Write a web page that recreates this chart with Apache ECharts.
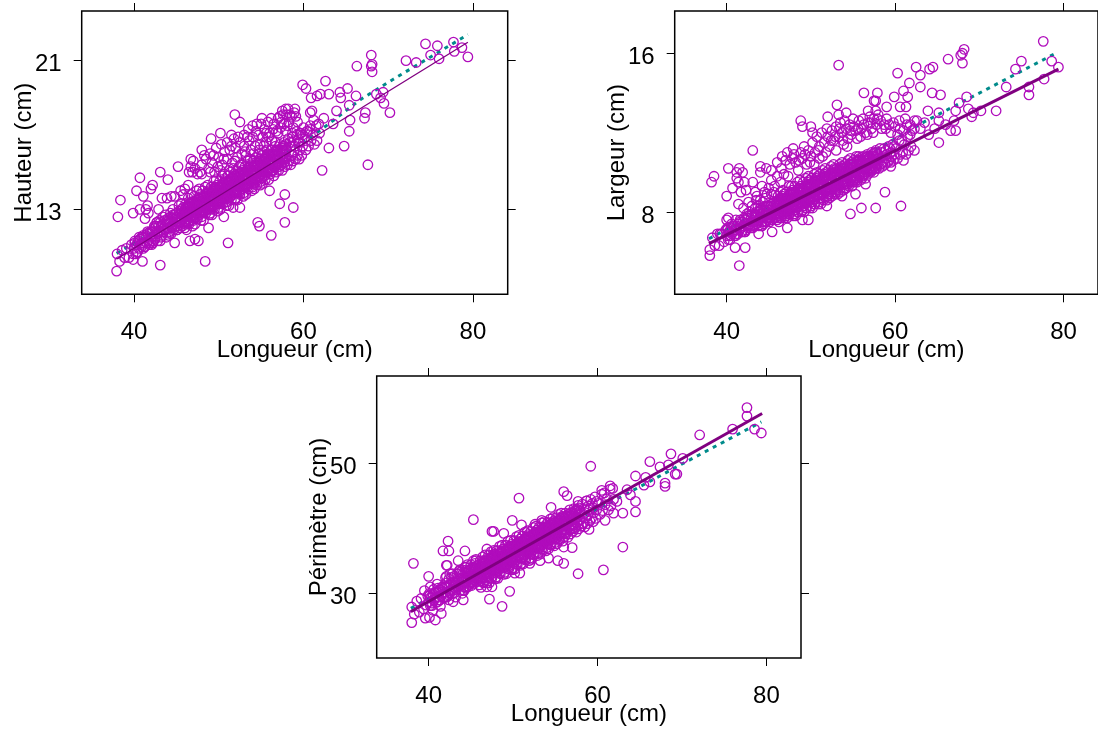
<!DOCTYPE html>
<html><head><meta charset="utf-8"><style>html,body{margin:0;padding:0;background:#fff;overflow:hidden}#c{width:1098px;height:731px}</style>
<script src="https://cdn.jsdelivr.net/npm/echarts@6/dist/echarts.min.js"></script></head><body><div id="c"></div>
<script>
const coreLongueur=[38.0,38.3,38.6,38.9,39.1,39.4,39.7,39.9,40.1,40.4,40.6,40.9,41.1,41.3,41.6,41.8,
42.1,42.2,42.4,42.5,42.7,42.8,43.0,43.2,43.4,43.5,43.7,43.9,44.0,44.2,44.3,44.5,44.6,44.8,45,45.1,45.3,45.4,45.6,45.7,45.9,
46,46,46.1,46.1,46.2,46.2,46.3,46.3,46.4,46.4,46.5,46.5,46.6,46.6,46.7,46.7,46.8,46.8,46.9,46.9,
47,47,47.1,47.1,47.2,47.2,47.3,47.3,47.4,47.4,47.5,47.5,47.6,47.6,47.7,47.7,47.8,47.8,47.9,47.9,
48,48,48.1,48.1,48.2,48.2,48.3,48.3,48.4,48.4,48.5,48.5,48.6,48.6,48.7,48.7,48.8,48.8,48.9,48.9,
49,49,49.1,49.1,49.2,49.2,49.3,49.3,49.4,49.4,49.5,49.5,49.6,49.6,49.7,49.7,49.8,49.8,49.9,49.9,
50,50,50.1,50.1,50.2,50.2,50.3,50.3,50.4,50.4,50.5,50.5,50.6,50.6,50.7,50.7,50.8,50.8,50.9,50.9,
51,51,51.1,51.1,51.2,51.2,51.3,51.3,51.4,51.4,51.5,51.5,51.6,51.6,51.7,51.7,51.8,51.8,51.9,51.9,
52,52,52.1,52.1,52.2,52.2,52.3,52.3,52.4,52.4,52.5,52.5,52.6,52.6,52.7,52.7,52.8,52.8,52.9,52.9,
53,53,53.1,53.1,53.2,53.2,53.3,53.3,53.4,53.4,53.5,53.5,53.6,53.6,53.7,53.7,53.8,53.8,53.9,53.9,
54,54,54.1,54.1,54.2,54.2,54.3,54.3,54.4,54.4,54.5,54.5,54.6,54.6,54.7,54.7,54.8,54.8,54.9,54.9,
55,55,55.1,55.1,55.2,55.2,55.3,55.3,55.4,55.4,55.5,55.5,55.6,55.6,55.7,55.7,55.8,55.8,55.9,55.9,
56,56.1,56.2,56.3,56.4,56.5,56.5,56.6,56.7,56.8,56.9,56.9,57,57.1,57.2,57.3,57.4,57.5,57.5,57.6,57.7,57.8,57.9,57.9,
58,58.1,58.2,58.3,58.4,58.5,58.5,58.6,58.7,58.8,58.9,58.9,59,59.1,59.2,59.3,59.4,59.5,59.5,59.6,59.7,59.8,59.9,59.9,
60.1,60.3,60.5,60.6,60.8,60.9,61.1,61.3,61.5,61.6,61.8,61.9,
40,40.1,40.2,40.3,40.4,40.5,40.6,40.7,40.8,40.9,41,41.1,41.2,41.3,41.4,41.5,41.6,41.7,41.8,41.9,
42,42.1,42.2,42.3,42.4,42.5,42.6,42.7,42.8,42.9,43,43.1,43.2,43.3,43.4,43.5,43.6,43.7,43.8,43.9,
44,44,44.1,44.2,44.2,44.3,44.4,44.4,44.5,44.6,44.6,44.7,44.8,44.8,44.9,44.9,
45,45,45.1,45.2,45.2,45.3,45.4,45.4,45.5,45.6,45.6,45.7,45.8,45.8,45.9,45.9,
46,46,46.1,46.2,46.2,46.3,46.4,46.4,46.5,46.6,46.6,46.7,46.8,46.8,46.9,46.9,
47,47,47.1,47.2,47.2,47.3,47.4,47.4,47.5,47.6,47.6,47.7,47.8,47.8,47.9,47.9,
48,48,48.1,48.2,48.2,48.3,48.4,48.4,48.5,48.6,48.6,48.7,48.8,48.8,48.9,48.9,
49,49,49.1,49.2,49.2,49.3,49.4,49.4,49.5,49.6,49.6,49.7,49.8,49.8,49.9,49.9,
50,50,50.1,50.2,50.2,50.3,50.4,50.4,50.5,50.6,50.6,50.7,50.8,50.8,50.9,50.9,
51,51,51.1,51.2,51.2,51.3,51.4,51.4,51.5,51.6,51.6,51.7,51.8,51.8,51.9,51.9,
52,52,52.1,52.2,52.2,52.3,52.4,52.4,52.5,52.6,52.6,52.7,52.8,52.8,52.9,52.9,
53,53,53.1,53.2,53.2,53.3,53.4,53.4,53.5,53.6,53.6,53.7,53.8,53.8,53.9,53.9,
54,54,54.1,54.2,54.2,54.3,54.4,54.4,54.5,54.6,54.6,54.7,54.8,54.8,54.9,54.9,
55,55,55.1,55.2,55.2,55.3,55.4,55.4,55.5,55.6,55.6,55.7,55.8,55.8,55.9,55.9,
56,56,56.1,56.2,56.2,56.3,56.4,56.4,56.5,56.6,56.6,56.7,56.8,56.8,56.9,56.9,
57,57,57.1,57.2,57.2,57.3,57.4,57.4,57.5,57.6,57.6,57.7,57.8,57.8,57.9,57.9];
const coreHauteur=[10.6,10.2,10.8,10.4,10.9,10.4,11.1,10.6,11.3,10.7,11.5,11.0,11.6,11.0,11.8,11.2,
11.8,11.2,12.1,11.4,12.3,11.7,12.4,11.5,12.6,11.8,12.7,12.0,12.5,11.7,12.8,12.0,13.0,12.2,12.6,11.9,13.2,12.3,13.3,12.4,12.8,
12.7,12.0,13.3,12.3,13.1,11.9,12.9,12.6,13.6,12.3,13.3,12.2,12.9,13.2,12.6,13.8,12.7,13.4,12.1,13.0,
12.9,12.4,13.7,12.5,13.3,12.2,13.2,12.8,14.0,12.6,13.5,12.5,13.1,13.6,12.9,14.1,12.9,13.8,12.4,13.3,
13.2,12.6,14.0,12.9,13.6,12.4,13.4,13.1,14.2,12.9,13.8,12.8,13.3,13.9,13.1,14.3,13.2,14.0,12.7,13.6,
13.5,12.8,14.2,13.1,13.9,12.7,13.7,13.3,14.5,13.1,14.1,13.0,13.6,14.2,13.4,14.6,13.5,14.3,12.9,13.9,
13.8,13.1,14.5,13.3,14.2,13.0,14.0,13.6,14.8,13.4,14.3,13.3,13.9,14.4,13.7,14.9,13.7,14.6,13.2,14.2,
14.0,13.4,14.8,13.6,14.4,13.2,14.3,13.9,15.0,13.7,14.6,13.5,14.2,14.7,13.9,15.2,14.0,14.9,13.5,14.4,
14.3,13.6,15.1,13.9,14.7,13.5,14.5,14.2,15.3,13.9,14.9,13.8,14.4,15.0,14.2,15.4,14.3,15.1,13.7,14.7,
14.6,13.9,15.3,14.2,15.0,13.8,14.8,14.4,15.6,14.2,15.2,14.1,14.7,15.3,14.5,15.7,14.6,15.4,14.0,15.0,
14.9,14.2,15.6,14.4,15.3,14.1,15.1,14.7,15.8,14.5,15.4,14.3,15.0,15.5,14.8,16.0,14.8,15.7,14.3,15.2,
15.1,14.5,15.9,14.7,15.5,14.4,15.3,15.0,16.1,14.8,15.7,14.6,15.2,15.8,15.0,16.2,15.1,16.0,14.6,15.5,
15.6,14.9,16.2,15.1,16.0,14.8,15.8,15.4,16.4,15.0,16.1,15.5,15.9,15.1,16.5,15.4,16.3,15.1,16.0,15.7,16.6,15.3,16.5,15.8,
16.2,15.4,16.8,15.6,16.6,15.4,16.4,15.9,16.9,15.6,16.7,16.1,16.4,15.7,17.0,15.9,16.8,15.7,16.6,16.2,17.1,15.9,17.0,16.4,
16.8,16.2,17.2,16.4,17.3,16.7,17.0,16.5,17.5,16.7,17.6,17.1,
10.9,11.2,10.6,11.1,10.7,11.3,10.9,11.4,11.1,11.5,11.2,10.9,11.5,11.0,11.6,11.2,11.7,11.3,11.1,11.8,
11.5,11.1,11.8,11.3,12.0,11.5,12.1,11.7,11.3,12.1,11.8,11.3,12.1,11.6,12.2,11.8,12.4,11.9,11.5,12.3,
12.0,12.4,11.6,12.2,11.8,12.6,12.1,11.7,12.5,12.2,12.7,11.9,12.4,12.7,12.1,12.5,
12.3,12.8,11.9,12.5,12.1,12.9,12.3,12.0,12.8,12.5,13.0,12.1,12.7,13.1,12.3,12.8,
12.6,13.0,12.2,12.8,12.4,13.2,12.7,12.3,13.1,12.8,13.3,12.4,12.9,13.4,12.7,13.1,
12.9,13.4,12.5,13.0,12.7,13.5,13.0,12.6,13.4,13.0,13.6,12.7,13.2,13.6,12.9,13.4,
13.2,13.7,12.8,13.3,13.0,13.7,13.2,12.9,13.7,13.3,13.9,13.0,13.5,13.9,13.2,13.7,
13.4,13.9,13.0,13.6,13.2,14.0,13.5,13.2,14.0,13.6,14.2,13.3,13.8,14.2,13.5,14.0,
13.7,14.2,13.3,13.9,13.5,14.3,13.8,13.5,14.2,13.9,14.4,13.6,14.1,14.5,13.8,14.3,
14.0,14.5,13.6,14.2,13.8,14.6,14.1,13.7,14.5,14.1,14.7,13.8,14.3,14.8,14.1,14.5,
14.3,14.8,13.9,14.4,14.1,14.9,14.3,14.0,14.8,14.4,15.0,14.1,14.6,15.0,14.3,14.8,
14.6,15.0,14.2,14.7,14.3,15.1,14.6,14.3,15.1,14.7,15.3,14.4,14.9,15.3,14.6,15.1,
14.9,15.3,14.4,15.0,14.6,15.4,14.9,14.6,15.3,15.0,15.5,14.7,15.2,15.6,14.9,15.4,
15.1,15.6,14.7,15.3,14.9,15.7,15.2,14.8,15.6,15.2,15.8,15.0,15.5,15.9,15.2,15.6,
15.4,15.9,15.0,15.6,15.2,16.0,15.4,15.1,15.9,15.5,16.1,15.3,15.7,16.2,15.4,15.9,
15.7,16.2,15.3,15.8,15.5,16.2,15.7,15.4,16.2,15.8,16.4,15.5,16.0,16.4,15.7,16.2];
const coreLargeur=[6.1,6.7,6.3,6.9,6.3,6.9,6.5,7.1,7.2,6.6,7.4,6.8,7.6,6.9,7.6,7.0,
7.7,7.0,7.9,7.2,8.0,7.3,7.9,7.5,8.2,7.4,8.3,7.6,8.2,7.3,8.5,7.5,8.7,7.7,8.1,7.6,8.9,7.8,9.0,7.9,8.4,
8.2,7.6,8.8,7.8,8.5,7.5,8.3,8.1,9.0,7.7,8.7,7.7,8.3,8.8,8.0,9.1,8.1,8.9,7.7,8.4,
8.4,7.8,9.0,8.0,8.7,7.7,8.5,8.2,9.3,7.9,8.9,7.9,8.5,9.0,8.2,9.3,8.3,9.1,7.8,8.6,
8.6,7.9,9.3,8.1,8.9,7.8,8.7,8.4,9.5,8.0,9.1,8.0,8.7,9.2,8.4,9.6,8.5,9.3,8.0,8.8,
8.8,8.1,9.5,8.3,9.1,8.0,8.9,8.6,9.7,8.2,9.3,8.2,8.9,9.5,8.6,9.8,8.7,9.6,8.2,9.0,
9.0,8.3,9.7,8.5,9.3,8.2,9.1,8.8,9.9,8.4,9.5,8.4,9.1,9.7,8.8,10.0,8.9,9.8,8.4,9.2,
9.2,8.5,9.9,8.7,9.5,8.4,9.3,9.0,10.1,8.7,9.7,8.6,9.3,9.9,9.0,10.2,9.1,10.0,8.6,9.4,
9.4,8.8,10.1,8.9,9.7,8.7,9.5,9.2,10.3,8.9,9.9,8.8,9.5,10.1,9.2,10.4,9.3,10.2,8.9,9.6,
9.6,9.0,10.2,9.1,9.9,8.9,9.7,9.4,10.4,9.1,10.1,9.0,9.7,10.3,9.4,10.5,9.5,10.3,9.1,9.8,
9.8,9.2,10.4,9.4,10.1,9.2,9.9,9.6,10.6,9.4,10.2,9.3,9.9,10.4,9.6,10.7,9.7,10.5,9.3,10.0,
10.0,9.5,10.6,9.6,10.3,9.5,10.1,9.8,10.8,9.6,10.4,9.5,10.1,10.6,9.8,10.8,9.9,10.7,9.6,10.2,
10.2,9.7,10.8,9.9,10.6,9.7,10.4,10.1,10.9,9.9,10.7,10.2,10.5,10.0,11.0,10.1,10.8,10.0,10.6,10.3,11.1,10.2,10.9,10.5,
10.7,10.2,11.2,10.4,11.0,10.3,10.8,10.5,11.2,10.4,11.1,10.7,10.9,10.5,11.3,10.6,11.2,10.5,11.0,10.8,11.4,10.6,11.3,10.9,
11.2,10.7,11.6,10.9,11.6,11.0,11.4,10.9,11.8,11.1,11.9,11.3,
6.8,7.1,6.6,7.0,6.8,7.2,6.9,7.3,7.0,7.3,7.1,6.8,7.3,6.9,7.4,7.1,7.5,7.2,7.0,7.5,
7.3,7.0,7.6,7.1,7.7,7.3,7.8,7.4,7.2,7.8,7.5,7.2,7.8,7.3,7.9,7.5,8.0,7.6,7.3,8.0,
7.7,8.1,7.3,7.9,7.5,8.2,7.7,7.4,8.1,7.8,8.3,7.5,8.0,8.3,7.7,8.1,
7.9,8.3,7.5,8.1,7.7,8.4,7.9,7.6,8.3,8.0,8.5,7.7,8.2,8.5,7.9,8.3,
8.1,8.5,7.7,8.3,7.9,8.6,8.1,7.8,8.5,8.2,8.7,7.9,8.4,8.7,8.1,8.5,
8.3,8.7,7.9,8.5,8.1,8.8,8.3,8.0,8.7,8.4,8.9,8.1,8.6,8.9,8.3,8.7,
8.5,9.0,8.1,8.7,8.3,9.1,8.6,8.2,9.0,8.6,9.2,8.3,8.8,9.2,8.5,9.0,
8.7,9.2,8.3,8.9,8.5,9.3,8.8,8.4,9.2,8.8,9.4,8.5,9.0,9.4,8.7,9.2,
9.0,9.4,8.5,9.1,8.7,9.5,9.0,8.6,9.4,9.0,9.6,8.8,9.3,9.6,8.9,9.4,
9.2,9.6,8.7,9.3,8.9,9.7,9.2,8.9,9.6,9.3,9.8,9.0,9.5,9.8,9.1,9.6,
9.4,9.8,9.0,9.5,9.1,9.9,9.4,9.1,9.8,9.5,10.0,9.2,9.7,10.0,9.3,9.8,
9.6,10.0,9.2,9.7,9.3,10.1,9.6,9.3,10.0,9.7,10.2,9.4,9.9,10.2,9.5,10.0,
9.8,10.2,9.4,9.9,9.5,10.3,9.8,9.5,10.2,9.9,10.4,9.6,10.1,10.4,9.8,10.2,
10.0,10.4,9.6,10.1,9.7,10.5,10.0,9.7,10.4,10.1,10.6,9.8,10.3,10.6,10.0,10.4,
10.2,10.6,9.8,10.4,10.0,10.7,10.2,9.9,10.6,10.3,10.8,10.0,10.5,10.8,10.2,10.6,
10.5,10.8,10.1,10.6,10.2,10.9,10.5,10.2,10.8,10.5,11.0,10.2,10.7,11.0,10.4,10.8];
const corePerimetre=[27.9,26.8,28.8,27.1,29.2,27.6,28.2,29.6,30.0,28.1,30.6,28.6,30.8,29.0,31.0,29.4,
31.6,29.5,32.2,30,32.4,30.4,32.6,30.8,33,31,33.2,31.2,33.6,30.4,34,31,34.4,31.4,32.6,31.6,35,32,35.2,32.2,33.4,
33.3,31.3,35.0,31.9,34.2,30.9,33.6,32.9,35.6,31.7,34.6,31.6,33.6,35.0,32.8,35.9,33.2,35.2,31.6,34.0,
34.0,31.9,35.9,32.6,34.9,31.6,34.4,33.5,36.4,32.4,35.4,32.3,34.3,35.8,33.5,36.6,34.0,36.0,32.2,34.8,
34.8,32.5,36.6,33.3,35.7,32.3,35.1,34.2,37.2,33.1,36.2,33.0,35.0,36.5,34.2,37.4,34.7,36.8,32.9,35.5,
35.5,33.2,37.4,34.0,36.4,33.0,35.9,34.9,38.0,33.8,36.9,33.7,35.8,37.2,34.9,38.1,35.4,37.5,33.6,36.3,
36.2,33.9,38.1,34.7,37.2,33.7,36.6,35.6,38.7,34.5,37.6,34.4,36.5,37.9,35.7,38.9,36.2,38.3,34.3,37.0,
37.0,34.6,38.8,35.4,37.9,34.5,37.3,36.4,39.4,35.3,38.3,35.1,37.2,38.7,36.4,39.6,36.9,39.0,35.0,37.7,
37.7,35.4,39.5,36.1,38.6,35.2,38.0,37.1,40.1,36.0,39.1,35.9,37.9,39.4,37.1,40.3,37.6,39.7,35.8,38.5,
38.4,36.2,40.2,36.9,39.3,36.0,38.8,37.9,40.8,36.8,39.7,36.6,38.7,40.1,37.9,41.0,38.4,40.4,36.5,39.2,
39.2,37.0,40.9,37.6,40.1,36.8,39.5,38.6,41.4,37.5,40.5,37.4,39.4,40.8,38.6,41.6,39.1,41.1,37.3,39.9,
39.9,37.8,41.6,38.4,40.8,37.6,40.2,39.3,42.1,38.3,41.2,38.1,40.1,41.5,39.3,42.3,39.8,41.8,38.0,40.6,
40.6,38.7,42.3,39.1,41.6,38.6,41.0,40.1,42.8,39.1,42.0,40.6,41.4,39.5,43.0,39.9,42.3,39.4,41.7,40.9,43.5,39.9,42.7,41.3,
42.1,40.3,43.7,40.7,43.0,40.2,42.4,41.6,44.2,40.7,43.4,42.0,42.8,41.1,44.4,41.5,43.8,41.0,43.1,42.4,44.8,41.5,44.1,42.8,
43.8,42.1,45.2,42.7,45.4,43.6,44.5,42.8,46.0,43.4,46.1,44.4,
28.7,29.6,28.1,29.3,28.5,29.9,29.0,30.1,29.3,30.3,29.5,28.7,30.3,29.0,30.5,29.6,30.8,30.0,29.3,31.0,
30.2,29.4,31.0,29.8,31.2,30.3,31.5,30.6,29.9,31.7,30.9,30.1,31.7,30.5,31.9,31.0,32.2,31.3,30.5,32.3,
31.7,32.9,30.5,32.3,31.0,33.2,31.9,30.8,33.1,32.2,33.4,31.0,32.7,33.6,31.7,33.0,
32.4,33.6,31.2,33.0,31.7,33.9,32.6,31.5,33.8,32.9,34.1,31.8,33.4,34.3,32.4,33.7,
33.1,34.4,31.9,33.7,32.4,34.6,33.4,32.2,34.5,33.6,34.9,32.5,34.1,35.0,33.2,34.5,
33.9,35.1,32.6,34.4,33.2,35.3,34.1,32.9,35.3,34.3,35.6,33.2,34.8,35.8,33.9,35.2,
34.6,35.8,33.4,35.2,33.9,36.1,34.8,33.7,36.0,35.1,36.3,33.9,35.6,36.5,34.6,35.9,
35.3,36.6,34.1,35.9,34.6,36.8,35.6,34.4,36.7,35.8,37.1,34.7,36.3,37.2,35.4,36.7,
36.0,37.3,34.8,36.6,35.3,37.5,36.3,35.1,37.4,36.5,37.8,35.4,37.0,37.9,36.1,37.4,
36.8,38.0,35.6,37.4,36.1,38.3,37.0,35.9,38.2,37.3,38.5,36.1,37.7,38.7,36.8,38.1,
37.5,38.7,36.3,38.1,36.8,39.0,37.7,36.6,38.9,38.0,39.3,36.9,38.5,39.4,37.6,38.9,
38.2,39.5,37.0,38.8,37.5,39.7,38.5,37.3,39.6,38.7,40.0,37.6,39.2,40.1,38.3,39.6,
39.0,40.2,37.8,39.6,38.3,40.5,39.2,38.1,40.4,39.5,40.7,38.3,39.9,40.9,39.0,40.3,
39.7,40.9,38.5,40.3,39.0,41.2,39.9,38.8,41.1,40.2,41.5,39.1,40.7,41.6,39.8,41.1,
40.4,41.7,39.2,41.0,39.7,41.9,40.7,39.5,41.8,40.9,42.2,39.8,41.4,42.3,40.5,41.8,
41.2,42.4,40.0,41.8,40.5,42.7,41.4,40.3,42.6,41.7,42.9,40.5,42.1,43.1,41.2,42.5];

const hauteurExtra=[[37.95,9.68],[38.4,13.5],[38.1,12.6],[39.9,12.8],[40.3,14],[40.7,14.7],[41.1,13.7],[42.2,14.3],[42,14.1],[43.1,15],[44,14.6],[43.1,10],[48.4,10.2],[51.1,11.2],[45.2,15.3],[46.7,15.7],[46.7,15.3],[46.9,15],[48,16.2],[49.1,16.8],[50.2,17.1],[51.9,18.1],[52.5,17.7],[51.5,17],[59.9,19.7],[60.3,19.5],[62.6,19.9],[60.9,19],[61.6,19.1],[62,19.2],[63,19.2],[64.3,19.3],[65.2,19.5],[64.4,19],[66.2,19.1],[66.3,20.7],[68,21.3],[68.1,20.8],[68,20.7],[68.1,20.4],[72.1,21],[73.3,20.9],[74.4,21.9],[75.8,21.8],[75,21.3],[76,21.1],[77.7,22],[77.8,21.5],[78.7,21.7],[79.4,21.2],[68.6,19.2],[69.1,19],[69.4,19.3],[69.5,18.7],[70.2,18.2],[67.3,18.2],[67.2,17.9],[65.5,17.8],[65.4,17.2],[64.8,16.4],[63,16.3],[62.2,15.1],[67.6,15.4],[60.8,18.2],[61,18.3],[62.4,17.9],[63.9,18.3],[65.4,18.6],[63.5,17.6],[58.8,13.1],[57.8,13.8],[57.2,13.3],[56,14],[57.8,12.3],[54.6,12.3],[54.8,12.1],[56.2,11.6],[44.8,11.2],[46.6,11.3],[47.2,11.4],[47.6,11.3],[41,10.2],[39.9,10.3],
[46.5,15],[47,15.6],[47.5,14.9],[48,15.4],[48,14.9],[48.5,15.7],[48.8,15.2],[49,16],[49.2,15.5],[49.5,15],[49.7,16.3],[50,15.8],[50.3,16.5],[50.4,15.4],[50.7,16.1],[51,15.7],[51,16.6],[51.3,16.2],[51.6,15.5],[51.8,16.8],[52,16.3],[52.2,15.8],[52.5,16.6],[52.7,16],[53,17],[53,16.4],[53.2,15.9],[53.5,17.3],[53.6,16.7],[53.8,16.2],[54,17.5],[54,16.9],[54.3,16.4],[54.5,17.6],[54.7,17],[54.9,16.5],[55,17.6],[55.2,16.9],[55.4,17.3],[55.6,16.6],[55.8,17.7],[56,17.1],[56.3,16.7],[56.5,17.6],[56.8,17.2],[57,17.9],[57.2,18],[57.3,17.4],[57.5,18.3],[57.7,17.6],[57.9,17.2],[58,18.1],[58.2,18.4],[58.3,17.7],[58.6,18],[58.8,17.4],[59,18.4],[59.1,18],[59.2,17.2],[59.4,16.6],
[40.7,13],[41.6,13.2],[41.4,13],[41.7,12.8],[41.3,12.5],[42.9,13],[43.3,13.6],[43.9,13.6],[44.4,13.7],[44.8,13.7],[43.1,12.3],[42.7,12.3],[45.5,14],[46,14.1],[46.4,14.3],[45.8,13.8],[52.5,13.1],[51.7,13.1],[50.6,12.6],[48.8,12],
[47.2,15.2],[47.8,15],[48.3,15.9],[49,15],[49.4,15.9],[49.9,15.3],[50.2,15.1],[50.6,15.7],[51.2,15.1],[51.5,16.4],[51.9,15.6],[52.3,16.9],[52.6,15.4],[53.1,16.1],[53.4,16.9],[53.7,15.7],[54.1,16],[54.4,17.2],[54.8,16.2],[55.1,17.9],[55.3,16.4],[55.6,17.1],[55.9,16.9],[56.2,17.9],[56.4,17.3],[56.7,16.6],[57,17.1],[57.4,17.7],[57.6,18.1],[57.9,18.4],[58.1,17.5],[58.4,18.1],[58.7,17.1],[58.9,18.2],[59.3,17.7],[59.6,17.1],[60,17.4],[60.4,17.2],[60.8,17.5],[61.2,17.8]];

const largeurExtra=[[38,5.8],[41.5,5.3],[38.2,9.5],[38.5,9.8],[40.2,10.2],[41.5,10.2],[41.2,10],[41.9,10],[41.2,9.7],[41.4,9.5],[42.1,9.5],[43.1,9.5],[40.7,9.2],[41.7,9],[42.3,9.1],[40,8.8],[41.4,8.4],[43.4,9],[43.6,8.8],[43.1,11.1],[44,10.3],[44,10],[44.7,10.2],[45.3,10.1],[46.6,10.8],[47.2,11],[47.9,11.2],[48.8,12.6],[49,12.3],[50,12.3],[50.2,12],[52,12.8],[53.1,13.4],[53.3,12.9],[54.2,13],[53.3,15.4],[56.3,14],[57.9,14],[57.7,13.6],[57.5,13.6],[56.8,13.1],[57.7,13.1],[59,13.3],[59.9,13.8],[60.6,13.3],[61.3,13.3],[61,14.1],[61.5,13.8],[61.7,14.5],[63,14.3],[60.3,15],[62.5,15.3],[63,14.9],[64.1,15.2],[64.5,15.3],[64.4,14],[65.4,13.9],[66.3,15.7],[68,15.5],[68,16],[68.2,16.2],[67.8,15.9],[68.5,13.8],[67.6,13.5],[63.9,13.1],[65.2,13],[62.3,12.6],[67.2,13.1],[68.7,13.2],[69.3,13],[70.2,13.1],[69.1,12.8],[72,13.1],[73.2,14.3],[74.3,15.2],[75,15.6],[77.6,16.6],[78.6,15.6],[79.4,15.3],[77.7,14.7],[75.9,14.3],[75.9,13.9],[67.2,12.1],[65.2,11.5],[62.3,11.1],[61,10.6],[59.5,10.3],[58.8,9],[60.7,8.3],[57.7,8.2],[56,8.2],[54.7,7.9],[51.9,8.3],[49.7,7.6],[49,7.6],[47.2,7.2],[45.4,7],[43.8,6.9],[42.2,6.2],[41,6.2],[40,7.6],[40.2,7.7],[39.2,6.9],[55.3,8.9],[56.5,9.4],[53.7,8.8],
[46,10.5],[46.5,10.2],[47,10.6],[47.5,10.4],[48,10.9],[48.2,10.5],[48.5,10.1],[48.8,11],[49,10.7],[49.2,11.3],[49.5,10.4],[49.7,11.1],[50,10.8],[50.2,11.5],[50.5,11],[50.7,11.8],[51,11.3],[51,10.7],[51.3,12],[51.6,11.5],[51.8,11],[52,11.8],[52.2,11.3],[52.5,12.1],[52.7,11.6],[53,11.1],[53,12.3],[53.3,11.8],[53.5,12.5],[53.7,12],[53.9,11.4],[54,12.6],[54.2,12.2],[54.4,11.7],[54.6,12.4],[54.8,11.9],[55,12.7],[55.3,12.1],[55.5,11.7],[55.7,12.6],[56,12.2],[56.2,12.7],[56.5,12],[56.8,12.5],[57,12.8],[57.2,12.2],[57.5,12.7],[57.8,12.4],[58,12.9],[58.3,12.6],[58.7,12.4],[59,12.7],[59.5,12],[60,12.3],[60.3,11.9],[60.6,12.2],[61,12.1],[61.4,12.4],[62,12.1],[62.6,12.6],[63,12.2],[63.5,12.5],[64,11.9],[64.7,12.2],[65.2,12.6],[66,12.4],[66.6,12.1],[67,12.6],[44,8.6],[44.5,9],[45,9.2],[45.3,9.6],[45.7,9.3],[46,9.8],[46.4,9.5],[46.8,9.9],[47.3,9.8],
[47.8,10.7],[48.6,10.6],[49.3,10.9],[49.9,10.5],[50.4,10.4],[50.9,11.1],[51.4,10.8],[51.9,12.2],[52.4,11.6],[52.9,11.8],[53.4,12.2],[53.8,11.6],[54.3,11.3],[54.7,12.1],[55.1,12.3],[55.6,12.2],[55.9,11.8],[56.3,12.4],[56.7,11.9],[57.1,12.5],[57.4,12],[57.9,12.7],[58.4,12.2],[58.9,12.2],[59.3,12.4],[59.8,12.5],[60.5,12.6],[61.2,12.7],[61.8,12.4],[62.3,12.2],[42,8.2],[42.6,8.5],[43,8.3],[43.5,8.6],[44.2,9.3],[44.8,8.9]];

const perimetreExtra=[[38,25.5],[38.2,34.6],[40,32.6],[42.3,38],[41.7,36.5],[42.4,36.5],[42.1,34.3],[42.2,34.3],[43.5,35],[44.3,36.5],[45.3,41.3],[50.7,44.6],[49.9,41.2],[51,40.5],[47.7,39.5],[47.5,39.5],[46.9,36.8],[54.5,43.2],[56,45.6],[56.4,45],[52.6,40.6],[53.4,41.2],[48.9,39.2],[59.2,49.5],[63,37.1],[60.7,33.6],[57.7,33],[56,34.6],[55.3,35],[57,37],[56,37.1],[50.8,33.1],[50.2,33.1],[49.6,30.3],[48.7,28],[47.2,29.1],[46.9,31],[47.5,31],[40.8,25.9],[40.1,26.3],[39.6,26.2],[64.5,48],[66.2,50.2],[68.7,51.4],[70.1,50.7],[72.1,54.3],[76,55.2],[77.7,58.5],[77.7,57.2],[78.6,55.2],[79.4,54.6],[64.5,44.1],[64.5,42.5],[63,42.3],[61.9,42.3],[60.9,41.2],[59,39.8],[61.5,46.5],[60.5,45.8],[57.7,44.1],[58.7,44.2],[68,46.9],[68,46.4],[69.2,48.3],[69.4,48.3],[67.4,49.4],[68.4,49.7],[66.2,47.1],[65.7,47.8],[65.5,46.6],[63.9,45.1],[62.3,44.1],[63.5,45.9],[53.2,35],[52,34.6],[54.2,35.4],[44.1,29],[42.9,28.7],[41.5,26.9],[39.5,30.4],[40.2,31],[40.5,27.4],[41,31.4],[41.4,28],[42,32.4],[42.4,29],[42.8,33],[43.2,29.4],[43.6,33.4],[44,30],[44.4,34],[45,34.4],[45.6,35],[42.1,32.6],[42.5,33],[43.7,33.6],[44.5,33.6],[45.5,34.6]];

const fitHauteur=[[37.95,10.33],[79.4,21.99]];
const loessHauteur=[[37.95,10.63],[50,13.9],[60,16.6],[63,17.6],[66.7,18.9],[70.6,20],[75,21.2],[79.4,22.4]];
const fitLargeur=[[37.9,6.4],[79.4,15.2]];
const loessLargeur=[[37.9,6.65],[58,11.2],[63.5,12.55],[79.3,16.05]];
const fitPerimetre=[[37.9,27.2],[79.5,57.6]];
const loessPerimetre=[[37.9,27.7],[50,36.3],[63.5,45.3],[69.8,49.7],[79.4,56.3]];
const xTicks=[40,60,80];
const xTitle='Longueur (cm)';

const panels=[
 {l:81.7,t:11,w:426,h:283.3,xr:[33.83,84.1],yr:[8.43,23.67],yt:[13,21],name:'Hauteur (cm)',core:coreHauteur,extra:hauteurExtra,fit:fitHauteur,loess:loessHauteur,fw:1.3},
 {l:674.7,t:11,w:426,h:283.3,xr:[33.83,84.1],yr:[3.85,18.13],yt:[8,16],name:'Largeur (cm)',core:coreLargeur,extra:largeurExtra,fit:fitLargeur,loess:loessLargeur,fw:3},
 {l:376.7,t:376,w:424.3,h:282,xr:[33.85,84.1],yr:[20.07,63.35],yt:[30,50],name:'Périmètre (cm)',core:corePerimetre,extra:perimetreExtra,fit:fitPerimetre,loess:loessPerimetre,fw:3}
];
const font='"Liberation Sans",Arial,sans-serif';
const line={color:'#000',width:1};
const grid=[],xAxis=[],yAxis=[],series=[];
panels.forEach((p,i)=>{
 grid.push({left:p.l,top:p.t,width:p.w,height:p.h,show:true,borderColor:'#000',borderWidth:1.5,backgroundColor:'#fff'});
 const g=i,ax0=xAxis.length,ay0=yAxis.length;
 ['bottom','top'].forEach(pos=>xAxis.push({type:'value',gridIndex:g,position:pos,min:p.xr[0],max:p.xr[1],splitLine:{show:false},axisLine:{show:false},
  axisTick:{show:true,length:8,lineStyle:line,customValues:xTicks},
  axisLabel:{show:pos==='bottom',customValues:xTicks,margin:26,fontSize:24,color:'#000',fontFamily:font},
  name:pos==='bottom'?xTitle:'',nameLocation:'middle',nameGap:44,nameMoveOverlap:false,nameTextStyle:{fontSize:24,color:'#000',fontFamily:font}}));
 ['left','right'].forEach(pos=>yAxis.push({type:'value',gridIndex:g,position:pos,min:p.yr[0],max:p.yr[1],splitLine:{show:false},axisLine:{show:false},
  axisTick:{show:true,length:8,lineStyle:line,customValues:p.yt},
  axisLabel:{show:pos==='left',customValues:p.yt,margin:20,fontSize:24,color:'#000',fontFamily:font,verticalAlign:'top',lineHeight:8},
  name:pos==='left'?p.name:'',nameLocation:'middle',nameGap:45,nameMoveOverlap:false,nameTextStyle:{fontSize:24,color:'#000',fontFamily:font}}));
 const pts=coreLongueur.map((x,k)=>[x,p.core[k]]).concat(p.extra);
 series.push({type:'line',xAxisIndex:ax0,yAxisIndex:ay0,data:p.loess,showSymbol:false,smooth:false,z:2,silent:true,lineStyle:{color:'#008B8B',width:3,type:[4,5]}});
 series.push({type:'scatter',xAxisIndex:ax0,yAxisIndex:ay0,data:pts,symbol:'circle',symbolSize:9.5,z:3,silent:true,itemStyle:{color:'rgba(0,0,0,0)',borderColor:'#b00cbc',borderWidth:1.3,opacity:1}});
 series.push({type:'line',xAxisIndex:ax0,yAxisIndex:ay0,data:p.fit,showSymbol:false,z:4,silent:true,lineStyle:{color:'#800080',width:p.fw}});
});
const chart=echarts.init(document.getElementById('c'),null,{renderer:'canvas'});
chart.setOption({animation:false,backgroundColor:'#fff',grid,xAxis,yAxis,series});
</script></body></html>
